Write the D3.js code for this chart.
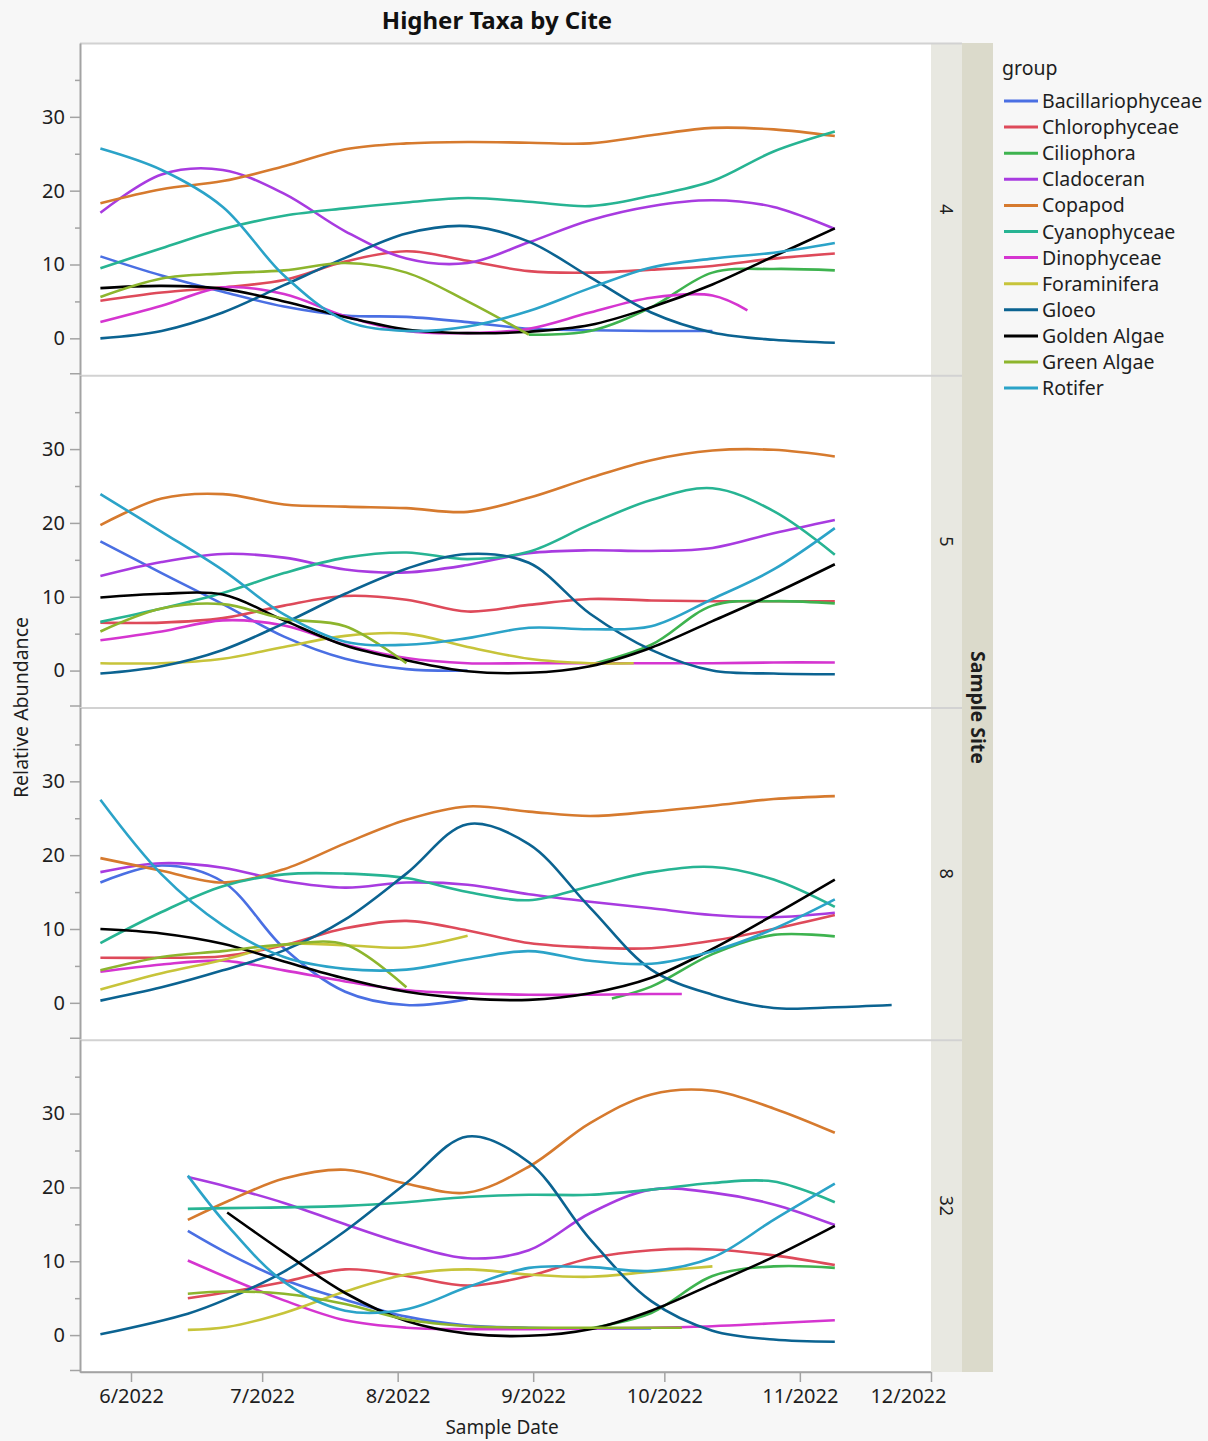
<!DOCTYPE html>
<html>
<head>
<meta charset="utf-8">
<script src="https://cdn.jsdelivr.net/npm/d3@7"></script>
<style>
  html, body { margin: 0; padding: 0; background: #f7f7f7; }
  svg { display: block; font-family: "Noto Sans", "Open Sans", sans-serif; }
</style>
</head>
<body>
<svg id="chart" width="1208" height="1441"></svg>
<script>
// Taxon groups, in legend order, and their line colours
const groups = ["Bacillariophyceae", "Chlorophyceae", "Ciliophora", "Cladoceran", "Copapod",
  "Cyanophyceae", "Dinophyceae", "Foraminifera", "Gloeo", "Golden Algae", "Green Algae", "Rotifer"];
const groupColors = ["#4a6fe3", "#de4a5a", "#3eb34f", "#a83be0", "#d67a2e",
  "#27b493", "#d535d0", "#c7c43a", "#0b6391", "#000000", "#8db52d", "#2ba3c8"];

const sites = ["4", "5", "8", "32"];
const monthTicks = ["2022-06-01", "2022-07-01", "2022-08-01", "2022-09-01", "2022-10-01", "2022-11-01", "2022-12-01"];
const yMajorTicks = [0, 10, 20, 30];
const yMinorTicks = [5, 15, 25, 35];

// Site 4 — one row per group (legend order), null where the group was not recorded
const datesSite4 = ["2022-05-25", "2022-06-08", "2022-06-22", "2022-07-06", "2022-07-20", "2022-08-03", "2022-08-17",
  "2022-08-31", "2022-09-14", "2022-09-28", "2022-10-12", "2022-10-20", "2022-10-26", "2022-11-09"];
const valuesSite4 = [
  [11.1, 8.5, 6.3, 4.3, 3.1, 2.9, 2.2, 1.3, 1.1, 1.0, 1.0, null, null, null],
  [5.1, 6.2, 6.9, 7.9, 10.4, 11.8, 10.5, 9.1, 8.9, 9.3, 9.8, null, 10.8, 11.5],
  [null, null, null, null, null, null, null, 0.5, 1.0, 4.2, 8.9, null, 9.4, 9.2],
  [17.0, 22.2, 22.8, 19.6, 14.5, 10.8, 10.2, 13.0, 16.0, 17.9, 18.7, null, 17.8, 14.8],
  [18.3, 20.2, 21.3, 23.3, 25.6, 26.4, 26.6, 26.5, 26.4, 27.5, 28.5, null, 28.3, 27.4],
  [9.5, 12.2, 14.8, 16.6, 17.6, 18.4, 19.0, 18.5, 17.9, 19.3, 21.3, null, 25.3, 28.0],
  [2.2, 4.4, 6.9, 6.0, 3.0, 1.0, 0.7, 1.3, 3.5, 5.5, 5.8, 3.8, null, null],
  [null, null, null, null, null, null, null, null, null, null, null, null, null, null],
  [0.0, 1.0, 3.5, 7.2, 10.9, 14.2, 15.2, 13.1, 8.3, 3.5, 0.8, null, -0.2, -0.6],
  [6.8, 7.1, 6.7, 5.0, 2.9, 1.2, 0.7, 0.9, 1.8, 4.2, 7.3, null, 11.1, 14.9],
  [5.6, 8.1, 8.8, 9.2, 10.2, 8.9, 5.0, 0.5, null, null, null, null, null, null],
  [25.7, 22.8, 17.8, 8.5, 2.4, 1.0, 1.6, 3.7, 6.8, 9.6, 10.8, null, 11.6, 12.9]
];

// Site 5
const datesSite5 = ["2022-05-25", "2022-06-08", "2022-06-22", "2022-07-06", "2022-07-20", "2022-08-03", "2022-08-17",
  "2022-08-31", "2022-09-14", "2022-09-24", "2022-09-28", "2022-10-12", "2022-10-26", "2022-11-09"];
const valuesSite5 = [
  [17.5, 13.2, 9.0, 4.6, 1.6, 0.2, 0.0, null, null, null, null, null, null, null],
  [6.5, 6.5, 7.1, 8.8, 10.1, 9.6, 8.0, 8.9, 9.7, null, 9.5, 9.4, 9.4, 9.4],
  [null, null, null, null, null, null, null, null, 0.8, null, 3.5, 8.8, 9.4, 9.1],
  [12.8, 14.7, 15.8, 15.3, 13.7, 13.3, 14.3, 15.9, 16.3, null, 16.2, 16.6, 18.6, 20.4],
  [19.7, 23.3, 23.9, 22.5, 22.2, 22.0, 21.5, 23.4, 26.1, null, 28.5, 29.8, 29.9, 29.0],
  [6.6, 8.4, 10.5, 13.2, 15.3, 16.0, 15.1, 16.1, 19.8, null, 23.1, 24.7, 21.6, 15.7],
  [4.1, 5.3, 6.8, 6.1, 3.5, 1.7, 1.0, 1.0, 1.0, null, 1.0, 1.0, 1.1, 1.1],
  [1.0, 1.0, 1.6, 3.2, 4.7, 5.0, 3.2, 1.6, 1.0, 1.0, null, null, null, null],
  [-0.4, 0.6, 2.8, 6.4, 10.4, 13.8, 15.8, 14.6, 7.7, null, 2.8, 0.0, -0.4, -0.5],
  [9.9, 10.4, 10.3, 6.8, 3.4, 1.4, -0.1, -0.3, 0.6, null, 3.1, 6.7, 10.4, 14.4],
  [5.3, 8.4, 9.0, 7.0, 6.0, 1.0, null, null, null, null, null, null, null, null],
  [23.9, 18.8, 13.6, 7.6, 3.9, 3.5, 4.4, 5.8, 5.6, null, 6.0, 9.7, 13.7, 19.3]
];

// Site 8
const datesSite8 = ["2022-05-25", "2022-06-08", "2022-06-22", "2022-07-06", "2022-07-20", "2022-08-03", "2022-08-17",
  "2022-08-31", "2022-09-14", "2022-09-19", "2022-09-28", "2022-10-05", "2022-10-12", "2022-10-26", "2022-11-09", "2022-11-22"];
const valuesSite8 = [
  [16.3, 18.6, 16.4, 7.4, 1.5, -0.3, 0.5, null, null, null, null, null, null, null, null, null],
  [6.1, 6.1, 6.3, 7.8, 10.1, 11.1, 9.8, 8.1, 7.5, null, 7.4, null, 8.4, 10.0, 11.9, null],
  [null, null, null, null, null, null, null, null, null, 0.6, 2.2, null, 6.6, 9.2, 9.0, null],
  [17.7, 18.9, 18.3, 16.5, 15.6, 16.3, 16.0, 14.7, 13.7, null, 12.8, null, 11.9, 11.6, 12.2, null],
  [19.6, 17.9, 16.3, 18.1, 21.6, 24.8, 26.6, 25.9, 25.3, null, 25.9, null, 26.7, 27.6, 28.0, null],
  [8.1, 12.3, 15.8, 17.4, 17.5, 16.9, 15.0, 13.9, 15.8, null, 17.7, null, 18.4, 16.7, 13.0, null],
  [4.2, 5.2, 5.7, 4.4, 2.9, 1.7, 1.3, 1.1, 1.1, null, 1.2, 1.2, null, null, null, null],
  [1.8, 4.0, 5.8, 7.9, 7.8, 7.5, 9.1, null, null, null, null, null, null, null, null, null],
  [0.3, 2.1, 4.4, 7.1, 11.3, 17.5, 24.2, 21.5, 12.9, null, 4.5, null, 1.1, -0.7, -0.6, -0.3],
  [10.0, 9.4, 8.0, 5.6, 3.3, 1.5, 0.6, 0.4, 1.3, null, 3.4, null, 7.3, 11.9, 16.7, null],
  [4.4, 6.2, 7.0, 7.9, 7.9, 2.1, null, null, null, null, null, null, null, null, null, null],
  [27.5, 17.4, 10.5, 6.2, 4.6, 4.5, 5.9, 7.0, 5.7, null, 5.3, null, 7.0, 10.0, 14.0, null]
];

// Site 32
const datesSite32 = ["2022-05-25", "2022-06-14", "2022-06-23", "2022-07-06", "2022-07-20", "2022-08-03", "2022-08-17",
  "2022-08-31", "2022-09-14", "2022-09-28", "2022-10-05", "2022-10-12", "2022-10-26", "2022-11-09"];
const valuesSite32 = [
  [null, 14.1, 11.1, 7.5, 4.8, 2.5, 1.3, 1.0, 0.9, 0.9, null, null, null, null],
  [null, 5.0, 5.8, 7.2, 8.9, 8.0, 6.7, 8.0, 10.4, 11.5, null, 11.6, 10.8, 9.5],
  [null, null, null, null, null, null, null, null, 0.9, 3.0, null, 8.0, 9.3, 9.1],
  [null, 21.4, 20.1, 17.9, 15.0, 12.3, 10.4, 11.5, 16.5, 19.7, null, 19.3, 17.7, 14.9],
  [null, 15.6, 18.1, 21.2, 22.4, 20.5, 19.3, 22.8, 28.7, 32.6, null, 33.1, 30.7, 27.4],
  [null, 17.1, 17.2, 17.3, 17.5, 18.0, 18.7, 19.0, 19.0, 19.7, null, 20.6, 20.8, 18.0],
  [null, 10.1, 7.8, 4.7, 2.0, 1.0, 0.8, 0.8, 0.9, 1.0, null, 1.2, 1.6, 2.0],
  [null, 0.7, 1.1, 3.0, 5.9, 8.2, 8.9, 8.2, 7.9, 8.6, null, 9.3, null, null],
  [0.1, 2.9, 4.9, 8.6, 14.1, 20.6, 26.9, 23.4, 13.0, 4.6, null, 0.6, -0.6, -0.9],
  [null, null, 16.6, 11.2, 5.7, 1.9, 0.2, -0.1, 0.8, 3.3, null, 6.9, 10.6, 14.8],
  [null, 5.6, 5.9, 5.6, 4.2, 2.1, 1.2, 1.0, 1.0, 1.0, 1.0, null, null, null],
  [null, 21.6, 14.9, 7.2, 3.3, 3.5, 6.5, 9.1, 9.2, 8.7, null, 10.5, 15.6, 20.5]
];

const siteDates = [datesSite4, datesSite5, datesSite8, datesSite32];
const siteValues = [valuesSite4, valuesSite5, valuesSite8, valuesSite32];

// ---- layout ----
const svg = d3.select("#chart");
const plotLeft = 80, plotRight = 931, plotTop = 43, plotBottom = 1372;
const stripW = 31;
const panelH = (plotBottom - plotTop) / sites.length;
const parse = d3.utcParse("%Y-%m-%d");
const axisGrey = "#a3a3a3";
const frameGrey = "#d2d2d2";
const textColor = "#1e1e1e";
const labelSize = 19.5;

const x = d3.scaleUtc()
  .domain([Date.UTC(2022, 4, 20, 8), Date.UTC(2022, 11, 1)])
  .range([plotLeft, plotRight]);

// Title
svg.append("text")
  .attr("x", 497).attr("y", 29)
  .attr("text-anchor", "middle")
  .attr("font-size", 24).attr("font-weight", "bold")
  .attr("fill", "#111")
  .text("Higher Taxa by Cite");

// Outer strip for the wrap variable
svg.append("rect")
  .attr("x", plotRight + stripW).attr("y", plotTop)
  .attr("width", stripW).attr("height", plotBottom - plotTop)
  .attr("fill", "#dbdacb");
svg.append("text")
  .attr("transform", `translate(${plotRight + stripW + stripW / 2 - 7},${(plotTop + plotBottom) / 2}) rotate(90)`)
  .attr("text-anchor", "middle")
  .attr("font-size", labelSize).attr("font-weight", "bold").attr("fill", textColor)
  .text("Sample Site");

const line = d3.line().curve(d3.curveCatmullRom.alpha(0.5));

sites.forEach((site, i) => {
  const top = plotTop + i * panelH;
  const bottom = top + panelH;
  const y = d3.scaleLinear().domain([-5, 40]).range([bottom, top]);
  const g = svg.append("g");

  // panel background
  g.append("rect")
    .attr("x", plotLeft).attr("y", top)
    .attr("width", plotRight - plotLeft).attr("height", panelH)
    .attr("fill", "#ffffff");

  // site strip
  g.append("rect")
    .attr("x", plotRight).attr("y", top)
    .attr("width", stripW).attr("height", panelH)
    .attr("fill", "#e8e8e1");
  g.append("text")
    .attr("transform", `translate(${plotRight + stripW / 2 - 7},${top + panelH / 2}) rotate(90)`)
    .attr("text-anchor", "middle")
    .attr("font-size", 18).attr("fill", textColor)
    .text(site);

  // top frame line of the panel
  g.append("line")
    .attr("x1", plotLeft).attr("x2", plotRight + stripW)
    .attr("y1", top + 0.5).attr("y2", top + 0.5)
    .attr("stroke", frameGrey).attr("stroke-width", 2);

  // clip for the curves
  const clipId = "clip-" + site;
  g.append("clipPath").attr("id", clipId)
    .append("rect")
    .attr("x", plotLeft).attr("y", top)
    .attr("width", plotRight - plotLeft).attr("height", panelH);

  const curves = g.append("g").attr("clip-path", `url(#${clipId})`);
  const dates = siteDates[i].map(parse);
  siteValues[i].forEach((vals, k) => {
    const pts = dates.map((d, j) => [d, vals[j]]).filter(p => p[1] !== null);
    if (pts.length < 2) return;
    line.x(p => x(p[0])).y(p => y(p[1]));
    curves.append("path")
      .attr("d", line(pts))
      .attr("fill", "none")
      .attr("stroke", groupColors[k])
      .attr("stroke-width", 2.6)
      .attr("stroke-linejoin", "round")
      .attr("stroke-linecap", "butt");
  });

  // y axis: labelled majors
  const yAxis = g.append("g")
    .attr("transform", `translate(${plotLeft},0)`)
    .call(d3.axisLeft(y).tickValues(yMajorTicks).tickSize(10).tickSizeOuter(0).tickPadding(5));
  yAxis.select(".domain").attr("stroke", axisGrey).attr("stroke-width", 2);
  yAxis.selectAll(".tick line").attr("stroke", axisGrey).attr("stroke-width", 1.5);
  yAxis.selectAll(".tick text")
    .attr("font-size", 20).attr("fill", textColor)
    .attr("font-family", "'Noto Sans', 'Open Sans', sans-serif");

  // y axis: minor ticks
  const yMinor = g.append("g")
    .attr("transform", `translate(${plotLeft},0)`)
    .call(d3.axisLeft(y).tickValues(yMinorTicks).tickSize(5).tickSizeOuter(0).tickFormat(""));
  yMinor.select(".domain").remove();
  yMinor.selectAll(".tick line").attr("stroke", axisGrey).attr("stroke-width", 1.5);

  // panel boundary tick
  g.append("line")
    .attr("x1", plotLeft - 10).attr("x2", plotLeft)
    .attr("y1", y(-5) - 1.5).attr("y2", y(-5) - 1.5)
    .attr("stroke", axisGrey).attr("stroke-width", 1.5);
});

// bottom frame
svg.append("line")
  .attr("x1", plotLeft).attr("x2", plotRight)
  .attr("y1", plotBottom).attr("y2", plotBottom)
  .attr("stroke", axisGrey).attr("stroke-width", 1.5);

// x axis
const xAxis = svg.append("g")
  .attr("transform", `translate(0,${plotBottom})`)
  .call(d3.axisBottom(x)
    .tickValues(monthTicks.map(parse))
    .tickSize(10).tickSizeOuter(0).tickPadding(7)
    .tickFormat(d3.utcFormat("%-m/%Y")));
xAxis.select(".domain").attr("stroke", axisGrey).attr("stroke-width", 1.5);
xAxis.selectAll(".tick line").attr("stroke", axisGrey).attr("stroke-width", 1.5);
xAxis.selectAll(".tick text")
  .attr("font-size", 20).attr("fill", textColor)
  .attr("font-family", "'Noto Sans', 'Open Sans', sans-serif");
// keep the last month label inside the frame
xAxis.selectAll(".tick text").filter((d, j, n) => j === n.length - 1)
  .attr("text-anchor", "end").attr("dx", 15);

// axis titles
svg.append("text")
  .attr("x", 502).attr("y", 1434)
  .attr("text-anchor", "middle")
  .attr("font-size", 19).attr("fill", textColor)
  .text("Sample Date");
svg.append("text")
  .attr("transform", `translate(28,${(plotTop + plotBottom) / 2}) rotate(-90)`)
  .attr("text-anchor", "middle")
  .attr("font-size", labelSize).attr("fill", textColor)
  .text("Relative Abundance");

// legend
const legend = svg.append("g").attr("transform", "translate(1002,0)");
legend.append("text")
  .attr("x", 0).attr("y", 75)
  .attr("font-size", labelSize).attr("fill", textColor)
  .text("group");
groups.forEach((name, k) => {
  const cy = 101 + k * 26.1;
  legend.append("line")
    .attr("x1", 2).attr("x2", 36)
    .attr("y1", cy).attr("y2", cy)
    .attr("stroke", groupColors[k]).attr("stroke-width", 3);
  legend.append("text")
    .attr("x", 40).attr("y", cy + 7)
    .attr("font-size", labelSize).attr("fill", textColor)
    .text(name);
});
</script>
</body>
</html>
